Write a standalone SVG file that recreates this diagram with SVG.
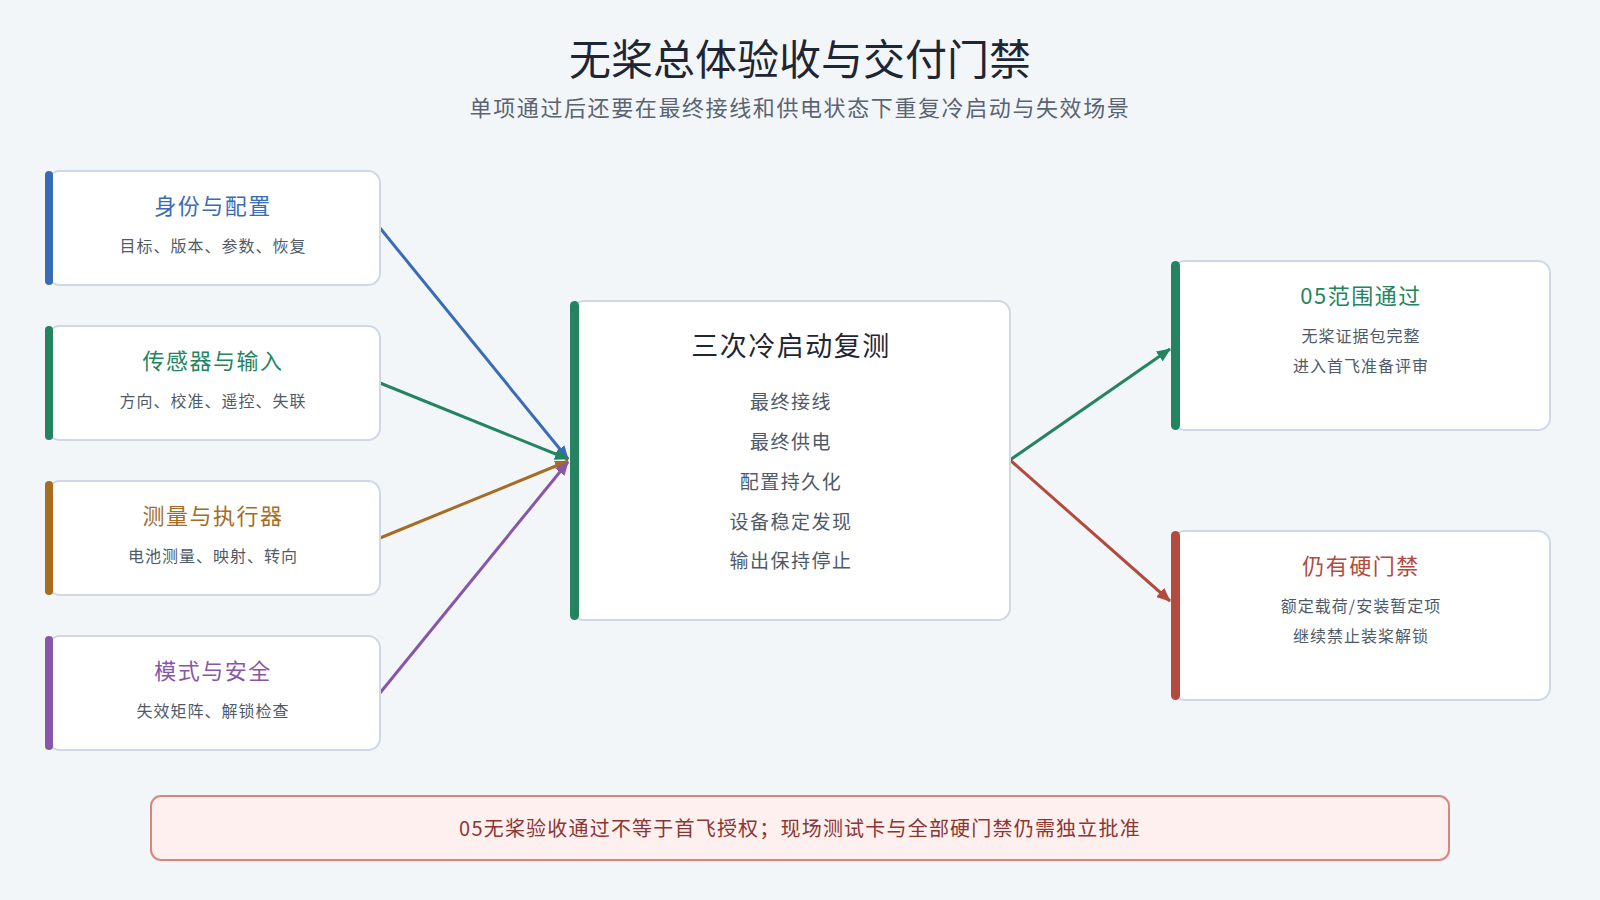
<svg xmlns="http://www.w3.org/2000/svg" width="1600" height="900" viewBox="0 0 1600 900">
<defs>
<style>
text{font-family:"Noto Sans CJK SC","Noto Sans",sans-serif;text-anchor:middle}
.box{fill:#ffffff;stroke:#cfd8e4;stroke-width:2}
.h{font-size:22px;letter-spacing:1.5px}
.s{font-size:16px;fill:#4f5a69;letter-spacing:1px}
.c{font-size:19px;fill:#4f5a69;letter-spacing:1.5px}
.ln{fill:none;stroke-width:3}
</style>
<marker id="aB" markerWidth="14" markerHeight="12" refX="13" refY="6" orient="auto" markerUnits="userSpaceOnUse"><path d="M0,0 L14,6 L0,12 Z" fill="#3a6cb5"/></marker>
<marker id="aG" markerWidth="14" markerHeight="12" refX="13" refY="6" orient="auto" markerUnits="userSpaceOnUse"><path d="M0,0 L14,6 L0,12 Z" fill="#23845f"/></marker>
<marker id="aO" markerWidth="14" markerHeight="12" refX="13" refY="6" orient="auto" markerUnits="userSpaceOnUse"><path d="M0,0 L14,6 L0,12 Z" fill="#a66c22"/></marker>
<marker id="aP" markerWidth="14" markerHeight="12" refX="13" refY="6" orient="auto" markerUnits="userSpaceOnUse"><path d="M0,0 L14,6 L0,12 Z" fill="#8856a8"/></marker>
<marker id="aR" markerWidth="14" markerHeight="12" refX="13" refY="6" orient="auto" markerUnits="userSpaceOnUse"><path d="M0,0 L14,6 L0,12 Z" fill="#b34a3e"/></marker>
</defs>
<rect x="0" y="0" width="1600" height="900" fill="#f3f6f9"/>
<text x="800" y="75" style="font-size:42px;fill:#1e2634">无桨总体验收与交付门禁</text>
<text x="800" y="116" style="font-size:22px;fill:#5a6473;letter-spacing:1.6px">单项通过后还要在最终接线和供电状态下重复冷启动与失效场景</text>

<g id="connectors">
<line class="ln" x1="380" y1="228" x2="568" y2="459" stroke="#3a6cb5" marker-end="url(#aB)"/>
<line class="ln" x1="380" y1="383" x2="568" y2="459" stroke="#23845f" marker-end="url(#aG)"/>
<line class="ln" x1="380" y1="538" x2="568" y2="461" stroke="#a66c22" marker-end="url(#aO)"/>
<line class="ln" x1="380" y1="693" x2="568" y2="462" stroke="#8856a8" marker-end="url(#aP)"/>
<line class="ln" x1="1010" y1="460" x2="1170" y2="349" stroke="#23845f" marker-end="url(#aG)"/>
<line class="ln" x1="1010" y1="460" x2="1170" y2="601" stroke="#b34a3e" marker-end="url(#aR)"/>
</g>

<g id="node-identity">
<rect class="box" x="48" y="171" width="332" height="114" rx="12"/>
<rect x="45" y="171" width="8" height="114" rx="4" fill="#3a6cb5"/>
<text class="h" x="213" y="214" fill="#3a6cb5">身份与配置</text>
<text class="s" x="213" y="252">目标、版本、参数、恢复</text>
</g>
<g id="node-sensors">
<rect class="box" x="48" y="326" width="332" height="114" rx="12"/>
<rect x="45" y="326" width="8" height="114" rx="4" fill="#23845f"/>
<text class="h" x="213" y="369" fill="#23845f">传感器与输入</text>
<text class="s" x="213" y="407">方向、校准、遥控、失联</text>
</g>
<g id="node-measure">
<rect class="box" x="48" y="481" width="332" height="114" rx="12"/>
<rect x="45" y="481" width="8" height="114" rx="4" fill="#a66c22"/>
<text class="h" x="213" y="524" fill="#a66c22">测量与执行器</text>
<text class="s" x="213" y="562">电池测量、映射、转向</text>
</g>
<g id="node-mode">
<rect class="box" x="48" y="636" width="332" height="114" rx="12"/>
<rect x="45" y="636" width="8" height="114" rx="4" fill="#8856a8"/>
<text class="h" x="213" y="679" fill="#8856a8">模式与安全</text>
<text class="s" x="213" y="717">失效矩阵、解锁检查</text>
</g>

<g id="node-center">
<rect class="box" x="572" y="301" width="438" height="319" rx="12"/>
<rect x="570" y="301" width="9" height="319" rx="4.5" fill="#23845f"/>
<text x="791" y="356" style="font-size:27px;fill:#1e2634;letter-spacing:1.5px">三次冷启动复测</text>
<text class="c" x="791" y="409">最终接线</text>
<text class="c" x="791" y="449">最终供电</text>
<text class="c" x="791" y="489">配置持久化</text>
<text class="c" x="791" y="529">设备稳定发现</text>
<text class="c" x="791" y="568">输出保持停止</text>
</g>

<g id="node-pass">
<rect class="box" x="1173" y="261" width="377" height="169" rx="12"/>
<rect x="1171" y="261" width="9" height="169" rx="4.5" fill="#23845f"/>
<text class="h" x="1361" y="304" fill="#23845f">05范围通过</text>
<text class="s" x="1361" y="342">无桨证据包完整</text>
<text class="s" x="1361" y="372">进入首飞准备评审</text>
</g>
<g id="node-gate">
<rect class="box" x="1173" y="531" width="377" height="169" rx="12"/>
<rect x="1171" y="531" width="9" height="169" rx="4.5" fill="#b34a3e"/>
<text class="h" x="1361" y="574" fill="#b34a3e">仍有硬门禁</text>
<text class="s" x="1361" y="612">额定载荷/安装暂定项</text>
<text class="s" x="1361" y="642">继续禁止装桨解锁</text>
</g>

<g id="node-note">
<rect x="151" y="796" width="1298" height="64" rx="10" fill="#fdf0ef" stroke="#d9857e" stroke-width="2"/>
<text x="800" y="836" style="font-size:20px;fill:#8d3534;letter-spacing:1.2px">05无桨验收通过不等于首飞授权；现场测试卡与全部硬门禁仍需独立批准</text>
</g>
</svg>
